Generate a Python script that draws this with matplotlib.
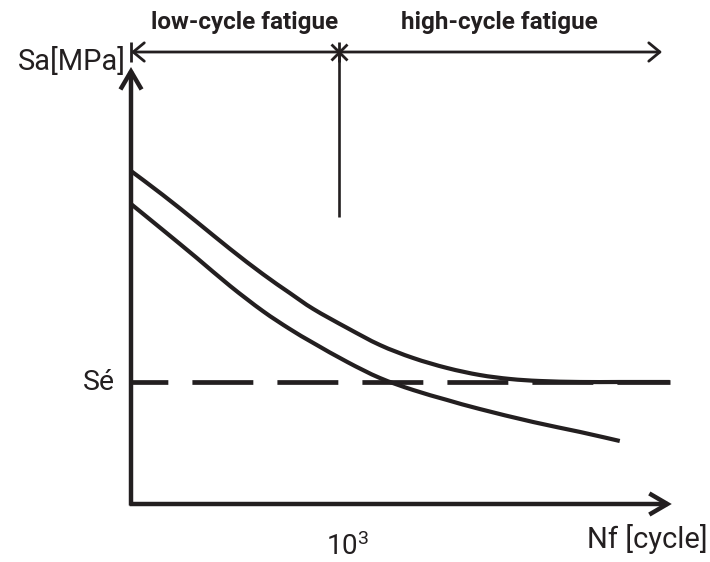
import matplotlib
matplotlib.use("Agg")
import matplotlib.pyplot as plt
from matplotlib.path import Path
from matplotlib.patches import PathPatch
import numpy as np

# S-N (Woehler) diagram, schematic
# x: log10(Nf), y: stress amplitude Sa (arbitrary units)
logN_upper = [0.00, 0.46, 0.95, 1.43, 1.90, 2.29, 2.63, 3.12, 3.59, 4.07,
              4.56, 5.03, 5.47, 5.90, 6.48, 7.05, 7.77]
Sa_upper = [333, 309, 282, 255, 230, 211, 195, 176, 159, 146,
            136, 129, 125, 123, 122, 122, 122]

logN_lower = [0.00, 0.46, 0.95, 1.43, 1.90, 2.29, 2.63, 3.12, 3.59, 4.07,
              4.56, 5.03, 5.80, 6.48, 7.05]
Sa_lower = [300, 274, 246, 218, 193, 175, 161, 142, 126, 114,
            104, 95, 82, 72, 63]

Se = 122               # endurance limit
logN_transition = 3    # 10^3 cycles
x_axis_end = 7.80
y_axis_end = 437
band_y = 452           # level of the fatigue-regime arrow
band_end = 7.66
divider_bottom = 287
se_line_end = 7.77

region_labels = ["low-cycle fatigue", "high-cycle fatigue"]
region_label_x = [1.64, 5.32]

plt.rcParams["font.family"] = ["Roboto", "DejaVu Sans"]
plt.rcParams["mathtext.fontset"] = "custom"
plt.rcParams["mathtext.rm"] = "Roboto"
plt.rcParams["mathtext.it"] = "Roboto"

ink = "#231f20"

fig = plt.figure(figsize=(7.10, 5.62), dpi=100)
ax = fig.add_axes([0, 0, 1, 1])
ax.set_xlim(-131 / 69.33, (710 - 131) / 69.33)
ax.set_ylim(-58, 504)
ax.axis("off")


def smooth_path(xs, ys):
    """Cubic Bezier path passing through every given point."""
    p = np.column_stack([xs, ys]).astype(float)
    verts = [p[0]]
    codes = [Path.MOVETO]
    n = len(p)
    for i in range(n - 1):
        p_prev = p[i - 1] if i > 0 else p[i]
        p_next2 = p[i + 2] if i + 2 < n else p[i + 1]
        c1 = p[i] + (p[i + 1] - p_prev) / 6.0
        c2 = p[i + 1] - (p_next2 - p[i]) / 6.0
        verts += [c1, c2, p[i + 1]]
        codes += [Path.CURVE4] * 3
    return Path(verts, codes)


# axes with arrow heads
arrow_kw = dict(arrowstyle="->,head_length=0.65,head_width=0.38", lw=3.2,
                color=ink, mutation_scale=20, shrinkA=0, shrinkB=0,
                joinstyle="miter", capstyle="butt")
ax.annotate("", xy=(0, y_axis_end), xytext=(0, -1.5), arrowprops=arrow_kw)
ax.annotate("", xy=(x_axis_end, 0), xytext=(-0.02, 0), arrowprops=arrow_kw)

# fatigue-regime band
band_kw = dict(arrowstyle="<->,head_length=0.4,head_width=0.33", lw=2.0,
               color=ink, mutation_scale=20, shrinkA=0, shrinkB=0)
ax.annotate("", xy=(band_end, band_y), xytext=(0, band_y), arrowprops=band_kw)
ax.plot([0], [band_y], marker="|", ms=15, mew=2.0, color=ink)
ax.plot([logN_transition], [band_y], marker="x", ms=11, mew=2.0, color=ink)
ax.plot([logN_transition], [band_y], marker="|", ms=15, mew=2.0, color=ink)
ax.plot([logN_transition, logN_transition], [band_y, divider_bottom],
        lw=1.9, color=ink, solid_capstyle="butt")

# endurance limit
ax.plot([0, se_line_end], [Se, Se], lw=3.4, color=ink,
        ls=(5.1, (12.9, 5.1)), dash_capstyle="butt")

# S-N curves
for xs, ys in [(logN_upper, Sa_upper), (logN_lower, Sa_lower)]:
    ax.add_patch(PathPatch(smooth_path(xs, ys), fill=False, lw=3.0,
                           edgecolor=ink, capstyle="butt", joinstyle="round"))

# labels
for lab, xc in zip(region_labels, region_label_x):
    ax.text(xc, 482, lab, ha="center", va="center", fontsize=17.5,
            fontweight="bold", color=ink)
ax.text(-1.63, 434, "Sa[MPa]", ha="left", va="baseline", fontsize=21,
        color=ink)
ax.text(-0.23, 114, "Sé", ha="right", va="baseline", fontsize=20.5, color=ink)
ax.text(3.12, -51, r"$\mathrm{10^3}$", ha="center", va="baseline",
        fontsize=20, color=ink)
ax.text(8.32, -44, "Nf [cycle]", ha="right", va="baseline", fontsize=21,
        color=ink)

fig.savefig("out.png", dpi=100)
